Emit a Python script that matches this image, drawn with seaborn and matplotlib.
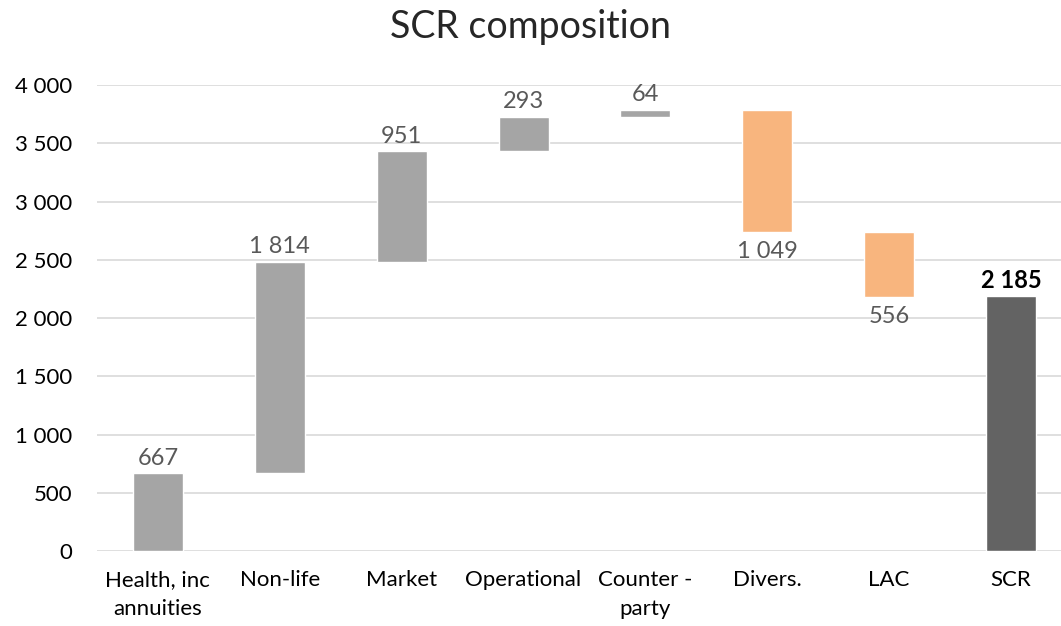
import seaborn as sns
import pandas as pd
import matplotlib.pyplot as plt

categories = ["Health, inc\nannuities", "Non-life", "Market", "Operational",
              "Counter -\nparty", "Divers.", "LAC", "SCR"]
values = [667, 1814, 951, 293, 64, -1049, -556, 2185]
is_total = [False, False, False, False, False, False, False, True]

# Waterfall: each step starts where the previous one ended
bottoms, heights = [], []
running = 0
for v, tot in zip(values, is_total):
    if tot:
        bottoms.append(0)
        heights.append(v)
    else:
        bottoms.append(min(running, running + v))
        heights.append(abs(v))
        running += v

colors = ["#A5A5A5" if (v > 0 and not t) else ("#636363" if t else "#F8B57E")
          for v, t in zip(values, is_total)]

df = pd.DataFrame({"cat": categories, "height": heights, "bottom": bottoms})

sns.set_style("white")
plt.rcParams['font.family'] = ['Lato', 'DejaVu Sans']

fig = plt.figure(figsize=(10.61, 6.26), dpi=100)
ax = fig.add_axes([0.0914, 0.1198, 0.9086, 0.7444])

# one call per bar so each gets its own floating base
for i in range(len(df)):
    sns.barplot(data=df.iloc[[i]], x="cat", y="height", order=categories,
                color=colors[i], saturation=1, bottom=bottoms[i], width=0.41,
                ax=ax, zorder=2)

ax.set_ylim(0, 4000)
ax.set_xlim(-0.5, 7.41)
ax.set_yticks(range(0, 4001, 500))
ax.set_yticklabels([f"{t:,}".replace(",", " ") for t in range(0, 4001, 500)])
ax.yaxis.grid(True, color="#D9D9D9", linewidth=1.2, zorder=0)
ax.set_axisbelow(True)
for s in ax.spines.values():
    s.set_visible(False)
ax.tick_params(axis="both", length=0, labelsize=16, colors="#000000")
ax.tick_params(axis="y", pad=18)
ax.tick_params(axis="x", pad=14)
for lbl in ax.get_xticklabels():
    lbl.set_linespacing(1.55)
ax.set_xlabel("")
ax.set_ylabel("")

for i, (v, b, h, t) in enumerate(zip(values, bottoms, heights, is_total)):
    txt = f"{abs(v):,}".replace(",", " ")
    if t:
        ax.text(i, b + h + 40, txt, ha="center", va="bottom", fontsize=17,
                fontweight="bold", color="#000000")
    elif v > 0:
        ax.text(i, b + h + 40, txt, ha="center", va="bottom", fontsize=17,
                color="#595959")
    else:
        ax.text(i, b - 80, txt, ha="center", va="top", fontsize=17,
                color="#595959")

fig.suptitle("SCR composition", fontsize=27, y=0.985)

fig.savefig("out.png", dpi=100)
